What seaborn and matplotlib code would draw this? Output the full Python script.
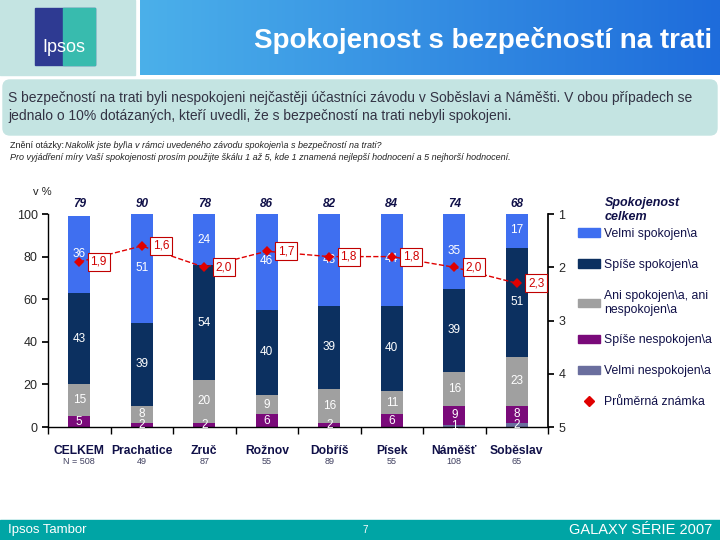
import numpy as np
import matplotlib
matplotlib.use('Agg')
import matplotlib.pyplot as plt
import matplotlib.patches as mpatches
from matplotlib.lines import Line2D
from matplotlib.transforms import blended_transform_factory
from matplotlib.colors import LinearSegmentedColormap
import seaborn as sns

# data
sites = ['CELKEM', 'Prachatice', 'Zruč', 'Rožnov', 'Dobříš', 'Písek', 'Náměšť', 'Soběslav']
n_labels = ['N = 508', '49', '87', '55', '89', '55', '108', '65']
velmi_spok = [36, 51, 24, 46, 43, 44, 35, 17]
spise_spok = [43, 39, 54, 40, 39, 40, 39, 51]
ani = [15, 8, 20, 9, 16, 11, 16, 23]
spise_nespok = [5, 2, 2, 6, 2, 6, 9, 8]
velmi_nespok = [0, 0, 0, 0, 0, 0, 1, 2]
spok_celkem = [79, 90, 78, 86, 82, 84, 74, 68]
prumer = [1.9, 1.6, 2.0, 1.7, 1.8, 1.8, 2.0, 2.3]

# layers from bottom to top
layers = [
    ('Velmi nespokojen\\a', velmi_nespok, '#6A6E9E'),
    ('Spíše nespokojen\\a', spise_nespok, '#7A0A7A'),
    ('Ani spokojen\\a, ani\nnespokojen\\a', ani, '#A0A0A0'),
    ('Spíše spokojen\\a', spise_spok, '#0C3060'),
    ('Velmi spokojen\\a', velmi_spok, '#3F6FF0'),
]

sns.set_theme(style='ticks')
plt.rcParams['font.family'] = ['Liberation Sans', 'DejaVu Sans']
navy = '#101048'

fig = plt.figure(figsize=(7.2, 5.4), dpi=100)
fig.patch.set_facecolor('white')

# header
fig.patches.append(mpatches.Rectangle((0, 1 - 75 / 540), 135 / 720, 75 / 540,
                                      transform=fig.transFigure, color='#C4E4E2'))
fig.patches.append(mpatches.Rectangle((35 / 720, 1 - 65 / 540), 60 / 720, 57 / 540,
                                      transform=fig.transFigure, color='#2E3A92'))
fig.patches.append(mpatches.Rectangle((63 / 720, 1 - 65 / 540), 32 / 720, 57 / 540,
                                      transform=fig.transFigure, color='#38BBAE'))
fig.text(64 / 720, 1 - 48 / 540, 'Ipsos', color='white', fontsize=13, ha='center', va='center')
hax = fig.add_axes([140 / 720, 1 - 75 / 540, 580 / 720, 75 / 540])
grad = LinearSegmentedColormap.from_list('hdr', ['#4BB0EA', '#1E6CDB'])
hax.imshow(np.linspace(0, 1, 256)[None, :], aspect='auto', cmap=grad, extent=(0, 1, 0, 1))
hax.axis('off')
fig.text(712 / 720, 1 - 40 / 540, 'Spokojenost s bezpečností na trati', color='white',
         fontsize=20, fontweight='bold', ha='right', va='center')

# summary box
fig.patches.append(mpatches.FancyBboxPatch((0.03, 4.05), 7.14, 0.55,
                                           boxstyle='round,pad=0,rounding_size=0.07',
                                           transform=fig.dpi_scale_trans, color='#C4E4E2'))
fig.text(8 / 720, 1 - 98 / 540,
         'S bezpečností na trati byli nespokojeni nejčastěji účastníci závodu v Soběslavi a Náměšti. '
         'V obou případech se', fontsize=10, color='#333344', va='center')
fig.text(8 / 720, 1 - 116 / 540,
         'jednalo o 10% dotázaných, kteří uvedli, že s bezpečností na trati nebyli spokojeni.',
         fontsize=10, color='#333344', va='center')

# question
fig.text(10 / 720, 1 - 146 / 540, 'Znění otázky:', fontsize=6.5, color='#222222', va='center')
fig.text(65 / 720, 1 - 146 / 540,
         'Nakolik jste byl\\a v rámci uvedeného závodu spokojen\\a s bezpečností na trati?',
         fontsize=6.5, style='italic', color='#222222', va='center')
fig.text(10 / 720, 1 - 158 / 540,
         'Pro vyjádření míry Vaší spokojenosti prosím použijte škálu 1 až 5, kde 1 znamená '
         'nejlepší hodnocení a 5 nejhorší hodnocení.',
         fontsize=6.5, style='italic', color='#222222', va='center')

# chart
ax = fig.add_axes([48 / 720, 113 / 540, 500 / 720, 213 / 540])
cum = np.cumsum([vals for _, vals, _ in layers], axis=0)
for i in reversed(range(len(layers))):
    sns.barplot(x=sites, y=cum[i], order=sites, color=layers[i][2], saturation=1,
                width=0.35, errorbar=None, linewidth=0, ax=ax)

for i, (_, vals, _) in enumerate(layers):
    bottoms = cum[i] - np.array(vals)
    for j, v in enumerate(vals):
        if v > 0:
            ax.text(j, bottoms[j] + v / 2, str(v), color='white', fontsize=8.5,
                    ha='center', va='center', zorder=3)

ax.set_ylim(0, 100)
ax.set_xlim(-0.5, 7.5)
ax.set_yticks(range(0, 101, 20))
ax.set_xticks(range(len(sites)))
ax.set_xticklabels(sites, fontweight='bold', fontsize=8.7, color=navy)
ax.set_xticks(np.arange(-0.5, 8, 1), minor=True)
ax.tick_params(axis='x', which='major', length=0, pad=13)
ax.tick_params(axis='x', which='minor', length=5, direction='out', color='black')
ax.tick_params(axis='y', labelsize=9, length=4, direction='out', color='black')
ax.set_xlabel('')
ax.set_ylabel('')
for s in ['left', 'bottom']:
    ax.spines[s].set_color('black')
    ax.spines[s].set_linewidth(1)
ax.spines['top'].set_visible(False)
ax.spines['right'].set_visible(False)

tr = blended_transform_factory(ax.transData, ax.transAxes)
for j, v in enumerate(spok_celkem):
    ax.text(j, 1.047, str(v), transform=tr, ha='center', va='center', fontsize=8.5,
            fontweight='bold', style='italic', color=navy)
for j, n in enumerate(n_labels):
    ax.text(j, -0.164, n, transform=tr, ha='center', va='center', fontsize=6.5, color='#404060')
fig.text(33 / 720, 1 - 192 / 540, 'v %', fontsize=8, color='#222222', va='center')

# mean score on inverted right axis
ax2 = ax.twinx()
sns.lineplot(x=np.arange(len(sites)), y=prumer, ax=ax2, color='#E00000', linestyle='--',
             linewidth=1, marker='D', markersize=5, markeredgewidth=0)
ax2.set_ylim(5, 1)
ax2.set_xlim(-0.5, 7.5)
ax2.set_yticks([1, 2, 3, 4, 5])
ax2.tick_params(axis='y', labelsize=9, length=4, direction='out', color='black')
ax2.spines['top'].set_visible(False)
ax2.spines['right'].set_color('black')
ax2.spines['left'].set_visible(False)
ax2.spines['bottom'].set_visible(False)
for j, m in enumerate(prumer):
    ax2.text(j + 0.18, m, f'{m:.1f}'.replace('.', ','), color='#D00000', fontsize=8.5,
             ha='left', va='center', zorder=5,
             bbox=dict(boxstyle='square,pad=0.25', fc='white', ec='#C00000', lw=0.8))

# legend
handles = [mpatches.Patch(color=c, label=l) for l, _, c in reversed(layers)]
handles.append(Line2D([], [], color='#E00000', marker='D', linestyle='none', markersize=5,
                      label='Průměrná známka'))
ax2.legend(handles=handles, loc='upper left', bbox_to_anchor=(1.06, 0.935), frameon=False,
           fontsize=8.8, handlelength=1.8, handleheight=0.7, handletextpad=0.3,
           labelspacing=1.55, borderpad=0, borderaxespad=0, labelcolor=navy)
fig.text(605 / 720, 1 - 210 / 540, 'Spokojenost\ncelkem', fontsize=9, fontweight='bold',
         style='italic', color=navy, va='center', linespacing=1.15)

# footer
fig.patches.append(mpatches.Rectangle((0, 0), 1, 20 / 540, transform=fig.transFigure,
                                      color='#00A5A5'))
fig.text(8 / 720, 10 / 540, 'Ipsos Tambor', color='white', fontsize=9.5, va='center')
fig.text(365 / 720, 10 / 540, '7', color='white', fontsize=7, va='center', ha='center')
fig.text(712 / 720, 10 / 540, 'GALAXY SÉRIE 2007', color='white', fontsize=10.5,
         va='center', ha='right')

fig.savefig('out.png', dpi=100)
